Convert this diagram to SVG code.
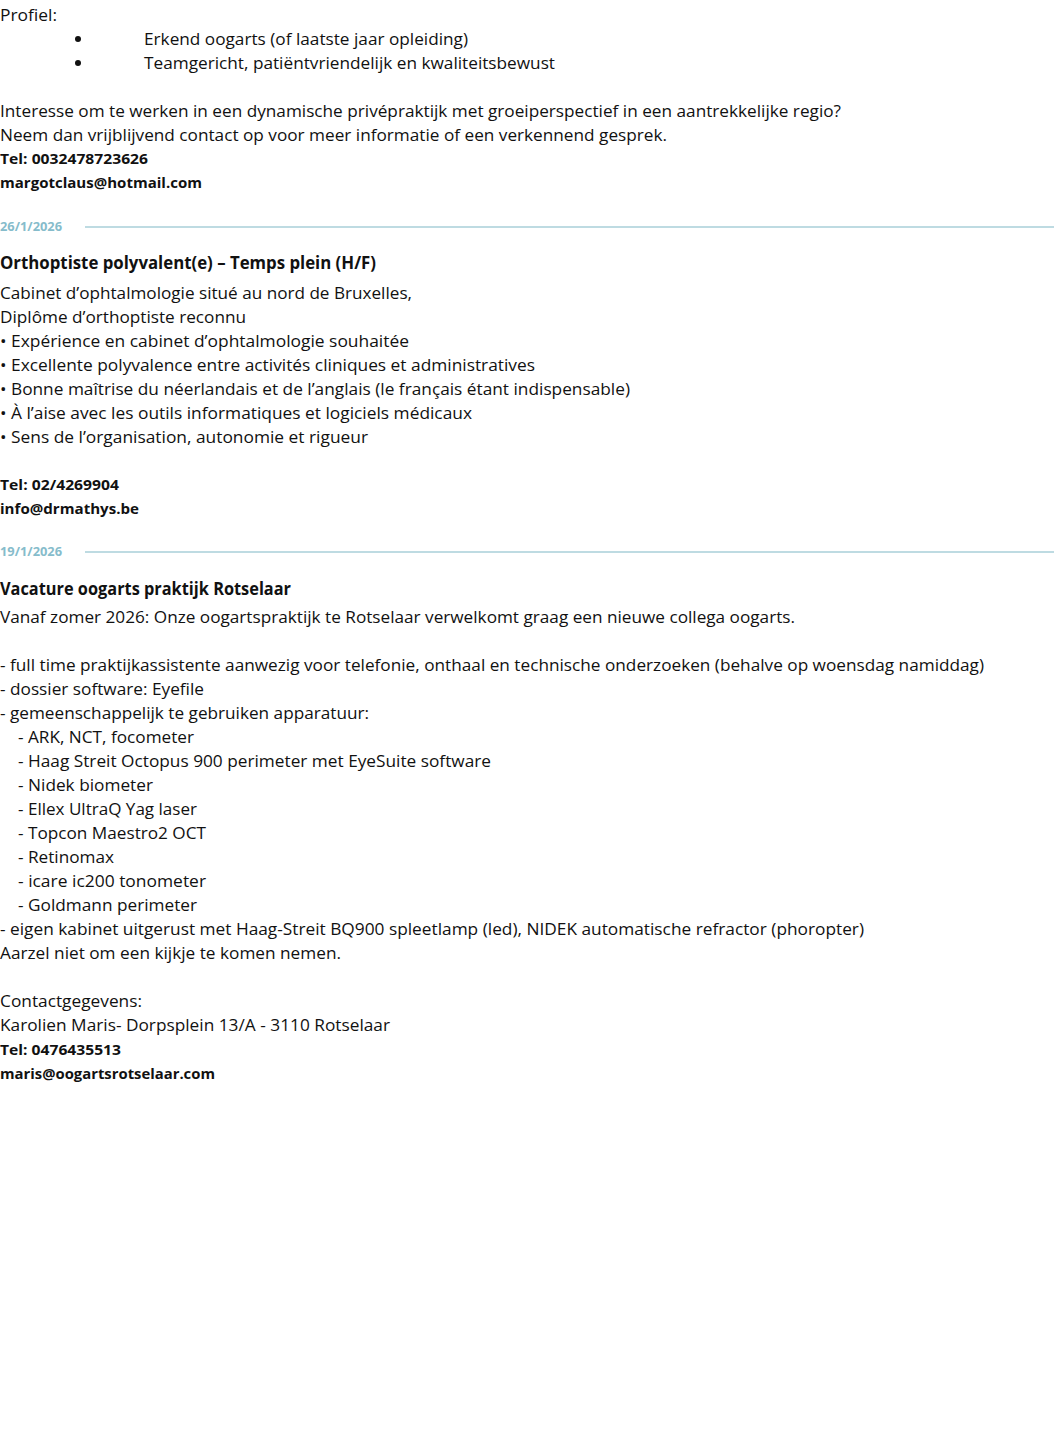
<svg xmlns="http://www.w3.org/2000/svg" width="1054" height="1452" viewBox="0 0 1054 1452">
<style>
text{font-family:"Open Sans","Liberation Sans",sans-serif;fill:#111}
.r{font-size:17px}
.b{font-size:14px;font-weight:bold}
.h{font-size:17px;font-weight:bold}
.d{font-size:11.5px;font-weight:bold;fill:#86bccb}
.l{stroke:#a9cfd8;stroke-width:1.5}
</style>
<rect width="1054" height="1452" fill="#fff"/>
<g id="sec1">
<text class="r" x="0" y="21" textLength="57" lengthAdjust="spacingAndGlyphs">Profiel:</text>
<circle cx="78" cy="39" r="3" fill="#111"/><circle cx="78" cy="63" r="3" fill="#111"/>
<text class="r" x="144" y="45" textLength="324" lengthAdjust="spacingAndGlyphs">Erkend oogarts (of laatste jaar opleiding)</text>
<text class="r" x="144" y="69" textLength="411" lengthAdjust="spacingAndGlyphs">Teamgericht, patiëntvriendelijk en kwaliteitsbewust</text>
<text class="r" x="0" y="117" textLength="841" lengthAdjust="spacingAndGlyphs">Interesse om te werken in een dynamische privépraktijk met groeiperspectief in een aantrekkelijke regio?</text>
<text class="r" x="0" y="141" textLength="667" lengthAdjust="spacingAndGlyphs">Neem dan vrijblijvend contact op voor meer informatie of een verkennend gesprek.</text>
<text class="b" x="0" y="164" textLength="148" lengthAdjust="spacingAndGlyphs">Tel: 0032478723626</text>
<text class="b" x="0" y="188" textLength="202" lengthAdjust="spacingAndGlyphs">margotclaus@hotmail.com</text>
</g>
<g id="sec2">
<text class="d" x="0" y="231" textLength="62" lengthAdjust="spacingAndGlyphs">26/1/2026</text>
<line class="l" x1="85" y1="227" x2="1054" y2="227"/>
<text class="h" x="0" y="269" textLength="376" lengthAdjust="spacingAndGlyphs">Orthoptiste polyvalent(e) – Temps plein (H/F)</text>
<text class="r" x="0" y="299" textLength="412" lengthAdjust="spacingAndGlyphs">Cabinet d’ophtalmologie situé au nord de Bruxelles,</text>
<text class="r" x="0" y="323" textLength="246" lengthAdjust="spacingAndGlyphs">Diplôme d’orthoptiste reconnu</text>
<text class="r" x="0" y="347" textLength="409" lengthAdjust="spacingAndGlyphs">• Expérience en cabinet d’ophtalmologie souhaitée</text>
<text class="r" x="0" y="371" textLength="535" lengthAdjust="spacingAndGlyphs">• Excellente polyvalence entre activités cliniques et administratives</text>
<text class="r" x="0" y="395" textLength="630" lengthAdjust="spacingAndGlyphs">• Bonne maîtrise du néerlandais et de l’anglais (le français étant indispensable)</text>
<text class="r" x="0" y="419" textLength="472" lengthAdjust="spacingAndGlyphs">• À l’aise avec les outils informatiques et logiciels médicaux</text>
<text class="r" x="0" y="443" textLength="368" lengthAdjust="spacingAndGlyphs">• Sens de l’organisation, autonomie et rigueur</text>
<text class="b" x="0" y="490" textLength="119" lengthAdjust="spacingAndGlyphs">Tel: 02/4269904</text>
<text class="b" x="0" y="514" textLength="139" lengthAdjust="spacingAndGlyphs">info@drmathys.be</text>
</g>
<g id="sec3">
<text class="d" x="0" y="556" textLength="62" lengthAdjust="spacingAndGlyphs">19/1/2026</text>
<line class="l" x1="85" y1="552" x2="1054" y2="552"/>
<text class="h" x="0" y="595" textLength="291" lengthAdjust="spacingAndGlyphs">Vacature oogarts praktijk Rotselaar</text>
<text class="r" x="0" y="623" textLength="795" lengthAdjust="spacingAndGlyphs">Vanaf zomer 2026: Onze oogartspraktijk te Rotselaar verwelkomt graag een nieuwe collega oogarts.</text>
<text class="r" x="0" y="671" textLength="984" lengthAdjust="spacingAndGlyphs">- full time praktijkassistente aanwezig voor telefonie, onthaal en technische onderzoeken (behalve op woensdag namiddag)</text>
<text class="r" x="0" y="695" textLength="204" lengthAdjust="spacingAndGlyphs">- dossier software: Eyefile</text>
<text class="r" x="0" y="719" textLength="369" lengthAdjust="spacingAndGlyphs">- gemeenschappelijk te gebruiken apparatuur:</text>
<text class="r" x="18" y="743" textLength="176" lengthAdjust="spacingAndGlyphs">- ARK, NCT, focometer</text>
<text class="r" x="18" y="767" textLength="473" lengthAdjust="spacingAndGlyphs">- Haag Streit Octopus 900 perimeter met EyeSuite software</text>
<text class="r" x="18" y="791" textLength="135" lengthAdjust="spacingAndGlyphs">- Nidek biometer</text>
<text class="r" x="18" y="815" textLength="179" lengthAdjust="spacingAndGlyphs">- Ellex UltraQ Yag laser</text>
<text class="r" x="18" y="839" textLength="188" lengthAdjust="spacingAndGlyphs">- Topcon Maestro2 OCT</text>
<text class="r" x="18" y="863" textLength="96" lengthAdjust="spacingAndGlyphs">- Retinomax</text>
<text class="r" x="18" y="887" textLength="188" lengthAdjust="spacingAndGlyphs">- icare ic200 tonometer</text>
<text class="r" x="18" y="911" textLength="179" lengthAdjust="spacingAndGlyphs">- Goldmann perimeter</text>
<text class="r" x="0" y="935" textLength="864" lengthAdjust="spacingAndGlyphs">- eigen kabinet uitgerust met Haag-Streit BQ900 spleetlamp (led), NIDEK automatische refractor (phoropter)</text>
<text class="r" x="0" y="959" textLength="341" lengthAdjust="spacingAndGlyphs">Aarzel niet om een kijkje te komen nemen.</text>
<text class="r" x="0" y="1007" textLength="142" lengthAdjust="spacingAndGlyphs">Contactgegevens:</text>
<text class="r" x="0" y="1031" textLength="390" lengthAdjust="spacingAndGlyphs">Karolien Maris- Dorpsplein 13/A - 3110 Rotselaar</text>
<text class="b" x="0" y="1055" textLength="121" lengthAdjust="spacingAndGlyphs">Tel: 0476435513</text>
<text class="b" x="0" y="1079" textLength="215" lengthAdjust="spacingAndGlyphs">maris@oogartsrotselaar.com</text>
</g>
</svg>
